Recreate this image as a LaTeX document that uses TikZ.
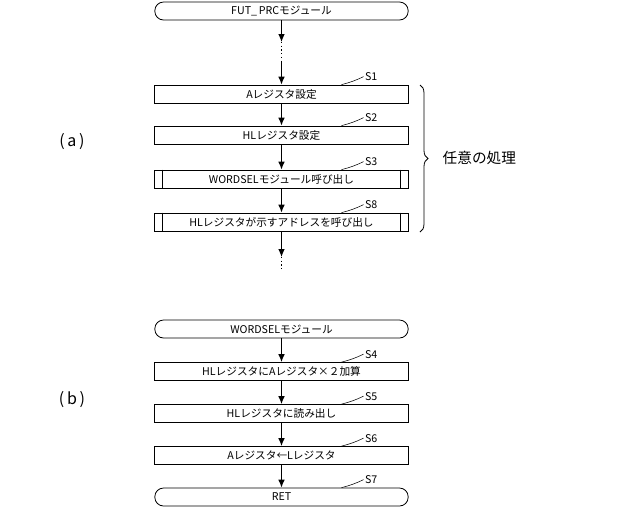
\documentclass[tikz,border=0pt]{standalone}
\usepackage{fontspec}
\setmainfont{Noto Sans CJK JP}
\usetikzlibrary{decorations.pathreplacing,arrows.meta,calc}
\begin{document}
\begin{tikzpicture}[x=0.75pt,y=-0.75pt,font=\fontsize{8}{9}\selectfont,
  box/.style={draw,minimum width=190pt,minimum height=13.5pt,inner sep=0pt,line width=0.6pt},
  term/.style={draw,rounded corners=6.5pt,minimum width=190pt,minimum height=13.5pt,inner sep=0pt,line width=0.6pt},
  arr/.style={-{Latex[length=6pt,width=5pt]},line width=0.8pt},
  dots/.style={dotted,line width=0.8pt}]
\useasboundingbox (0,0) rectangle (640,512);
\newcommand\slab[2]{\draw[line width=0.4pt] ($(#1.north)+(60,0)$) .. controls +(8,-2) and +(-8,4) .. ++(22,-8) node[right,inner sep=1pt] {#2};}
\node[term] (t) at (281.5,11) {FUT\_\,PRCモジュール};
\coordinate (d1a) at (281.5,42); \coordinate (d1b) at (281.5,62);
\node[box] (s1) at (281.5,94) {Aレジスタ設定};
\node[box] (s2) at (281.5,135) {HLレジスタ設定};
\node[box] (s3) at (281.5,179) {WORDSELモジュール呼び出し};
\node[box] (s8) at (281.5,222) {HLレジスタが示すアドレスを呼び出し};
\foreach \n in {s3,s8}{\draw[line width=0.6pt] ($(\n.north west)+(8,0)$) -- ($(\n.south west)+(8,0)$) ($(\n.north east)+(-8,0)$) -- ($(\n.south east)+(-8,0)$);}
\coordinate (e1) at (281.5,257); \coordinate (d2b) at (281.5,270);
\draw[arr] (t) -- (d1a);
\draw[dots] (d1a) -- (d1b);
\draw[arr] (d1b) -- (s1);
\draw[arr] (s1) -- (s2);
\draw[arr] (s2) -- (s3);
\draw[arr] (s3) -- (s8);
\draw[arr] (s8) -- (e1);
\draw[dots] (e1) -- (d2b);
\draw[decorate,decoration={brace,amplitude=6pt},line width=0.6pt] (420,85) -- (420,232);
\node[font=\fontsize{11}{12}\selectfont,anchor=west] (lab) at (438,158) {任意の処理};
\node[font=\fontsize{12}{13}\selectfont] (la) at (72,142) {(\,a\,)};
\node[font=\fontsize{12}{13}\selectfont] (lb) at (72,400) {(\,b\,)};
\node[term] (w) at (281.5,329) {WORDSELモジュール};
\node[box] (s4) at (281.5,371.5) {HLレジスタにAレジスタ×２加算};
\node[box] (s5) at (281.5,413.5) {HLレジスタに読み出し};
\node[box] (s6) at (281.5,455.5) {Aレジスタ←Lレジスタ};
\node[term] (r) at (281.5,497) {RET};
\draw[arr] (w) -- (s4);
\draw[arr] (s4) -- (s5);
\draw[arr] (s5) -- (s6);
\draw[arr] (s6) -- (r);
\slab{s1}{S1}\slab{s2}{S2}\slab{s3}{S3}\slab{s8}{S8}
\slab{s4}{S4}\slab{s5}{S5}\slab{s6}{S6}\slab{r}{S7}
\end{tikzpicture}
\end{document}
